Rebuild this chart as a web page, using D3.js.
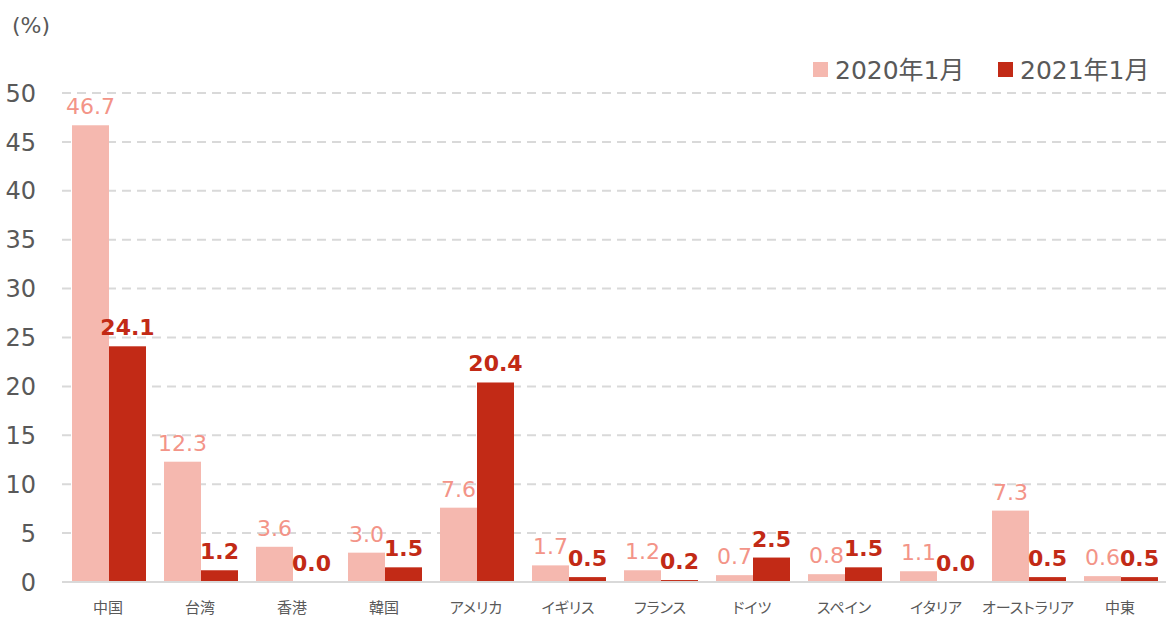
<!DOCTYPE html>
<html><head><meta charset="utf-8">
<script src="https://cdn.jsdelivr.net/npm/d3@7"></script>
<style>
html,body{margin:0;padding:0;background:#fff;}
svg{display:block;font-family:"DejaVu Sans","Noto Sans CJK JP",sans-serif;}
.cat{font-family:"Noto Sans CJK JP",sans-serif;font-feature-settings:"palt";}
</style></head>
<body>
<svg id="c" width="1166" height="617"></svg>
<script>
const categories = ["中国","台湾","香港","韓国","アメリカ","イギリス","フランス","ドイツ","スペイン","イタリア","オーストラリア","中東"];
const seriesNames = ["2020年1月","2021年1月"];
const values2020 = [46.7,12.3,3.6,3.0,7.6,1.7,1.2,0.7,0.8,1.1,7.3,0.6];
const values2021 = [24.1,1.2,0.0,1.5,20.4,0.5,0.2,2.5,1.5,0.0,0.5,0.5];
const yTicks = [0,5,10,15,20,25,30,35,40,45,50];
const unitLabel = "(%)";

const colors = ["#F5B8AF","#C22A16"];
const labelColors = ["#F39488","#C22A16"];

const svg = d3.select("#c");
const y = d3.scaleLinear().domain([0,50]).range([582,93]);
const x0 = d3.scaleBand().domain(categories).range([62,1166]).padding(0);
const x1 = d3.scaleBand().domain(seriesNames).range([10,84]).padding(0);

// gridlines
svg.append("g").selectAll("line").data(yTicks.filter(d=>d>0)).join("line")
  .attr("x1",62).attr("x2",1166)
  .attr("y1",d=>y(d)).attr("y2",d=>y(d))
  .attr("stroke","#D9D9D9").attr("stroke-width",2).attr("stroke-dasharray","9,6");

// y tick labels
svg.append("g").selectAll("text").data(yTicks).join("text")
  .attr("x",36).attr("y",d=>y(d)).attr("dy","0.36em")
  .attr("text-anchor","end").attr("font-size",24).attr("fill","#595959")
  .text(d=>d);

svg.append("text").attr("x",12).attr("y",33).attr("font-size",22).attr("fill","#595959").text(unitLabel);

const rows = categories.map((c,i)=>({cat:c, vals:[values2020[i],values2021[i]]}));

const groups = svg.append("g").selectAll("g").data(rows).join("g")
  .attr("transform",d=>`translate(${x0(d.cat)},0)`);

groups.selectAll("rect").data(d=>d.vals.map((v,j)=>({v,j}))).join("rect")
  .attr("x",d=>x1(seriesNames[d.j]))
  .attr("width",x1.bandwidth())
  .attr("y",d=>y(d.v))
  .attr("height",d=>y(0)-y(d.v))
  .attr("fill",d=>colors[d.j]);

groups.selectAll("text.v").data(d=>d.vals.map((v,j)=>({v,j}))).join("text")
  .attr("class","v")
  .attr("x",d=>x1(seriesNames[d.j])+x1.bandwidth()/2)
  .attr("y",d=>y(d.v)-11)
  .attr("text-anchor","middle")
  .attr("font-size",22)
  .attr("font-weight",d=>d.j===1?"bold":"normal")
  .attr("fill",d=>labelColors[d.j])
  .text(d=>d.v.toFixed(1));

// baseline
svg.append("line").attr("x1",62).attr("x2",1166).attr("y1",y(0)).attr("y2",y(0))
  .attr("stroke","#D9D9D9").attr("stroke-width",2);

// category labels
svg.append("g").selectAll("text").data(categories).join("text")
  .attr("class","cat")
  .attr("x",d=>x0(d)+x0.bandwidth()/2).attr("y",613)
  .attr("text-anchor","middle").attr("font-size",15).attr("fill","#595959")
  .text(d=>d);

// legend
const legX = [813,998];
const leg = svg.append("g").selectAll("g").data(seriesNames).join("g")
  .attr("transform",(d,i)=>`translate(${legX[i]},62)`);
leg.append("rect").attr("width",15).attr("height",15).attr("fill",(d,i)=>colors[i]);
leg.append("text").attr("x",22).attr("y",17).attr("font-size",25).attr("fill","#595959").text(d=>d);
</script>
</body></html>
